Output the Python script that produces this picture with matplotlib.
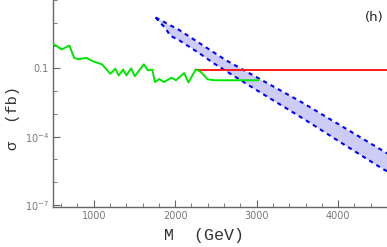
import numpy as np
import matplotlib
matplotlib.use("Agg")
import matplotlib.pyplot as plt
from matplotlib.ticker import FixedLocator, NullFormatter

# Green curve
green_M = [500, 607, 701, 759, 812, 907, 998, 1101, 1204, 1265, 1306, 1360, 1401,
           1459, 1504, 1615, 1664, 1719, 1751, 1805, 1862, 1953, 2010, 2109, 2163,
           2253, 2315, 2398, 2479, 3020]
green_sigma = [1.2, 0.68, 1.0, 0.29, 0.25, 0.29, 0.20, 0.15, 0.058, 0.097, 0.049,
               0.088, 0.049, 0.10, 0.045, 0.15, 0.082, 0.088, 0.025, 0.034, 0.025,
               0.039, 0.030, 0.062, 0.024, 0.091, 0.069, 0.033, 0.030, 0.030]

# Red line
red_M = [2253, 4600]
red_sigma = [0.084, 0.084]

# Blue band
band_up_M = [1760, 2050, 2620, 3550, 4620]
band_up_sigma = [17, 4.8, 0.23, 3.3e-3, 1.7e-5]
band_lo_M = [1760, 1820, 1880, 1940, 2050, 2300, 2480, 3000, 3610, 4000, 4560, 4620]
band_lo_sigma = [17, 9.8, 5.8, 2.7, 1.7, 0.45, 0.16, 0.011, 5.1e-4, 6.6e-5, 3.6e-6, 2.9e-6]

xticks_major = [1000, 2000, 3000, 4000]
xtick_labels = ["1000", "2000", "3000", "4000"]
yticks_major = [0.1, 1e-4, 1e-7]
ytick_labels = ["0.1", r"$10^{-4}$", r"$10^{-7}$"]

fig = plt.figure(figsize=(3.87, 2.47), dpi=100)
ax = fig.add_axes([53/387, 40/247, 334/387, 207/247])

# band
grid = np.linspace(1760, 4620, 400)
up = 10**np.interp(grid, band_up_M, np.log10(band_up_sigma))
lo = 10**np.interp(grid, band_lo_M, np.log10(band_lo_sigma))
ax.fill_between(grid, lo, up, color="#ccccf6", lw=0, zorder=1)
ax.plot(band_up_M, band_up_sigma, color="#0000ff", lw=1.5, ls=(0, (2, 2)), zorder=2)
ax.plot(band_lo_M, band_lo_sigma, color="#0000ff", lw=1.5, ls=(0, (2, 2)), zorder=2)

ax.plot(red_M, red_sigma, color="#ff1a1a", lw=1.4, zorder=3)
ax.plot(green_M, green_sigma, color="#00e600", lw=1.4, zorder=4)

ax.set_yscale("log")
ax.set_xlim(500, 4600)
ax.set_ylim(8.2e-8, 100)

ax.xaxis.set_major_locator(FixedLocator(xticks_major))
ax.set_xticklabels(xtick_labels)
ax.xaxis.set_minor_locator(FixedLocator([m for m in range(600, 4600, 200) if m % 1000]))
ax.yaxis.set_major_locator(FixedLocator(yticks_major))
ax.set_yticklabels(ytick_labels)
ax.yaxis.set_minor_locator(FixedLocator([10.0**k for k in range(-6, 3) if k not in (-1, -4)]))
ax.yaxis.set_minor_formatter(NullFormatter())

for s in ("top", "right"):
    ax.spines[s].set_visible(False)
for s in ("left", "bottom"):
    ax.spines[s].set_color("#666666")
    ax.spines[s].set_linewidth(1.0)

ax.tick_params(which="both", direction="in", colors="#666666", labelcolor="#777777",
               labelsize=7)
ax.tick_params(which="major", length=5, width=0.8, pad=3)
ax.tick_params(which="minor", length=3, width=0.6)

ax.set_xlabel("M  (GeV)", family="Liberation Mono", fontsize=12, color="#333333")
ax.xaxis.set_label_coords(0.452, -0.1)
ax.set_ylabel("σ  (fb)", family="Liberation Mono", fontsize=11, color="#333333")
ax.yaxis.set_label_coords(-0.1, 0.43)

ax.text(0.962, 0.915, "(h)", transform=ax.transAxes, fontsize=9.5, ha="center",
        va="center", color="#222222")

fig.savefig("out.png", dpi=100)
